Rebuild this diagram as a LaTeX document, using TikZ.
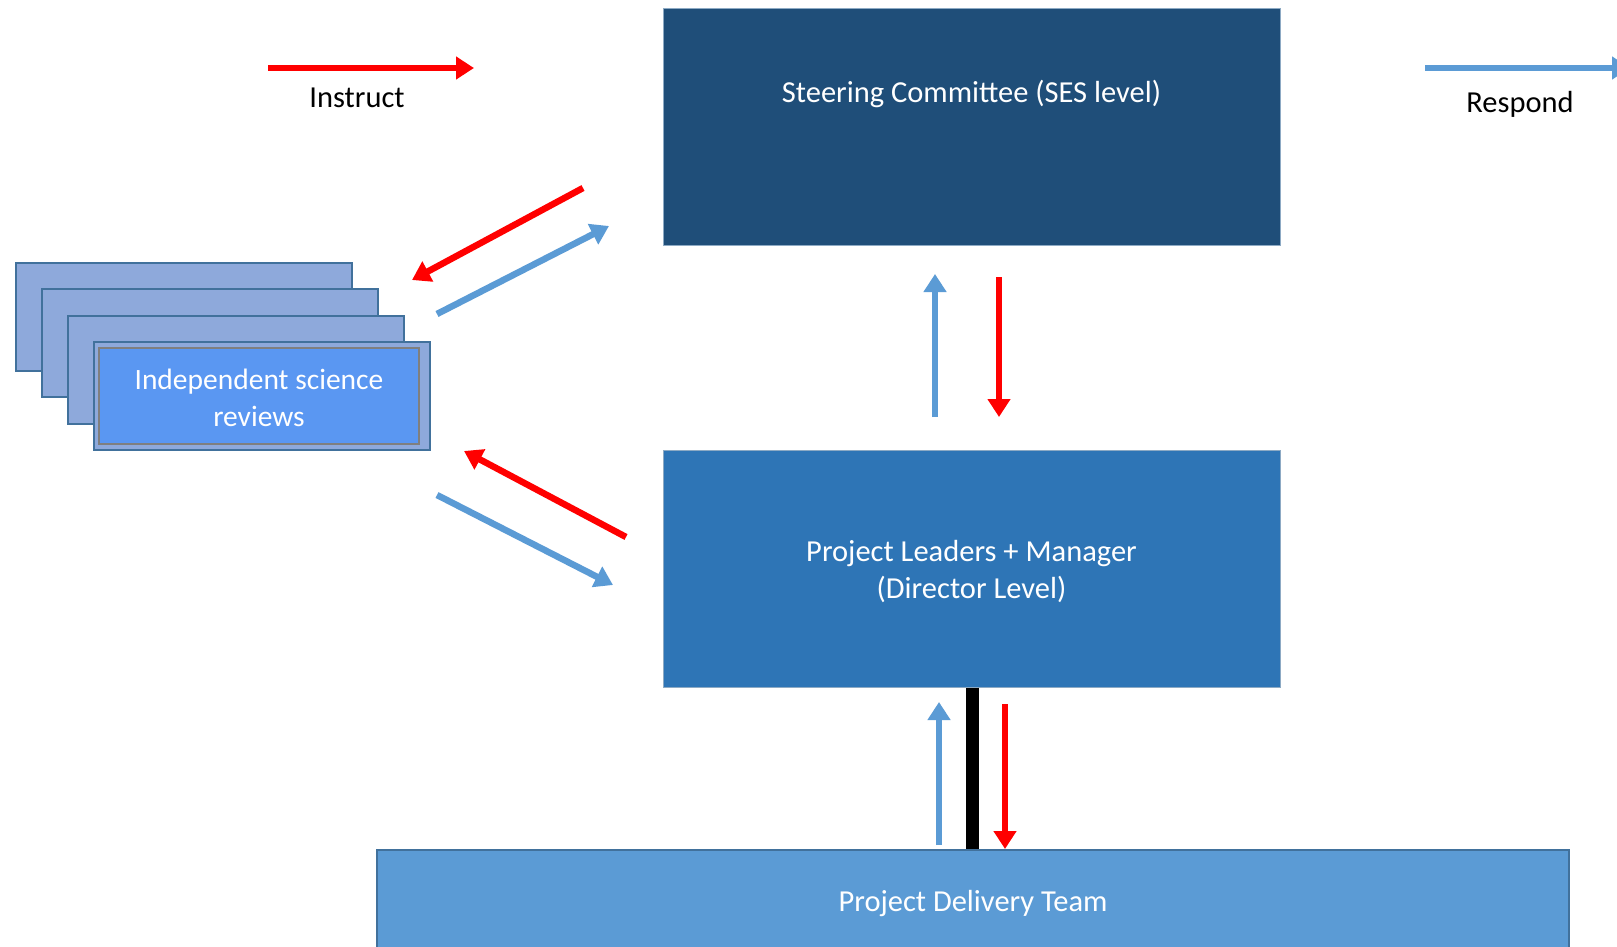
\documentclass[tikz,border=0pt]{standalone}
\usepackage{fontspec}
\setmainfont{Carlito}
\usetikzlibrary{arrows.meta}
\definecolor{scfill}{HTML}{1F4E79}
\definecolor{plfill}{HTML}{2E75B6}
\definecolor{pdfill}{HTML}{5B9BD5}
\definecolor{pdline}{HTML}{41719C}
\definecolor{stackfill}{HTML}{8EA9DB}
\definecolor{stackline}{HTML}{41719C}
\definecolor{isrfill}{HTML}{5A97F2}
\definecolor{isrline}{HTML}{7F7F7F}
\definecolor{redarr}{HTML}{FF0000}
\definecolor{bluearr}{HTML}{5B9BD5}
\tikzset{
  bigbox/.style={draw=pdline!60!white, line width=1pt, minimum width=617pt, minimum height=237pt, inner sep=0pt},
  boxtext/.style={text=white, font=\fontsize{30.5}{37}\selectfont, align=center},
  isrtextstyle/.style={text=white, font=\fontsize{29.5}{37}\selectfont, align=center},
  stackbox/.style={draw=stackline, line width=2pt, fill=stackfill, minimum width=336pt, minimum height=108pt, inner sep=0pt},
  redarrow/.style={draw=redarr, line width=6.5pt, -{Triangle[length=18pt,width=22pt]}},
  bluearrow/.style={draw=bluearr, line width=6.5pt, -{Triangle[length=18pt,width=22pt]}},
  legendtext/.style={text=black, font=\fontsize{30.5}{36}\selectfont}
}
\begin{document}
\begin{tikzpicture}[x=1pt,y=-1pt]
\path[use as bounding box, fill=white] (0,0) rectangle (1617,946);
\clip (0,0) rectangle (1617,946);
% main boxes
\node[bigbox, fill=scfill] (sc) at (971.5,126.5) {};
\node[boxtext] (sctext) at (971.5,94) {Steering Committee (SES level)};
\node[bigbox, fill=plfill] (pl) at (971.5,568.5) {};
\node[boxtext] (pltext) at (971.5,572) {Project Leaders + Manager\\(Director Level)};
\node[draw=pdline, line width=2pt, fill=pdfill, minimum width=1192pt, minimum height=104pt, inner sep=0pt] (pd) at (973,902) {};
\node[boxtext] (pdtext) at (973,904) {Project Delivery Team};
% stacked review boxes
\node[stackbox] (s1) at (184,317) {};
\node[stackbox] (s2) at (210,343) {};
\node[stackbox] (s3) at (236,370) {};
\node[stackbox] (s4) at (262,396) {};
\node[draw=isrline, line width=2.5pt, fill=isrfill, minimum width=320pt, minimum height=96pt, inner sep=0pt] (isr) at (259,396) {};
\node[isrtextstyle] (isrtext) at (259,398) {Independent science\\reviews};
% legend
\coordinate (ia) at (268,68);
\coordinate (ib) at (474,68);
\draw[redarrow] (ia) -- (ib);
\node[legendtext] (instr) at (357,98) {Instruct};
\coordinate (ra) at (1425,68);
\coordinate (rb) at (1630,68);
\draw[bluearrow] (ra) -- (rb);
\node[legendtext] (resp) at (1520,104) {Respond};
% diagonal arrows
\coordinate (d1a) at (583,188);
\coordinate (d1b) at (412,280);
\draw[redarrow] (d1a) -- (d1b);
\coordinate (d2a) at (437,314);
\coordinate (d2b) at (609,226);
\draw[bluearrow] (d2a) -- (d2b);
\coordinate (d3a) at (626,537);
\coordinate (d3b) at (464,451);
\draw[redarrow] (d3a) -- (d3b);
\coordinate (d4a) at (437,495);
\coordinate (d4b) at (613,585);
\draw[bluearrow] (d4a) -- (d4b);
% vertical arrows between steering and leaders
\coordinate (v1a) at (935,417);
\coordinate (v1b) at (935,274);
\draw[bluearrow] (v1a) -- (v1b);
\coordinate (v2a) at (999,277);
\coordinate (v2b) at (999,417);
\draw[redarrow] (v2a) -- (v2b);
% bottom connectors
\draw[black, line width=13pt] (pl.south -| 972,0) -- (pd.north -| 972,0);
\coordinate (v3a) at (939,845);
\coordinate (v3b) at (939,702);
\draw[bluearrow] (v3a) -- (v3b);
\coordinate (v4a) at (1005,704);
\coordinate (v4b) at (1005,849);
\draw[redarrow] (v4a) -- (v4b);
\end{tikzpicture}
\end{document}
